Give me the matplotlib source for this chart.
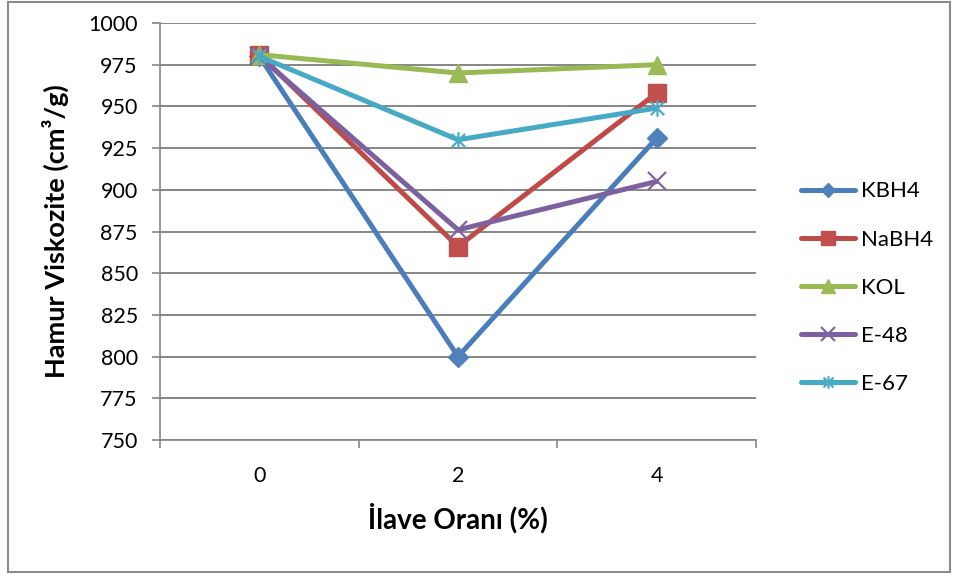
import matplotlib
matplotlib.use('Agg')
import matplotlib.pyplot as plt
from matplotlib.path import Path
from matplotlib.patches import Rectangle

plt.rcParams['font.family'] = ['Lato', 'DejaVu Sans']

# Additive ratio categories and measured dough viscosity per additive
categories = ['0', '2', '4']
kbh4 = [980, 800, 931]
nabh4 = [981, 866, 958]
kol = [981, 970, 975]
e48 = [980, 876, 905]
e67 = [980, 930, 949]

y_ticks = [750, 775, 800, 825, 850, 875, 900, 925, 950, 975, 1000]

# asterisk marker: an x with a vertical stroke
star = Path([(-1, -1), (1, 1), (-1, 1), (1, -1), (0, -1.25), (0, 1.25)],
            [Path.MOVETO, Path.LINETO, Path.MOVETO, Path.LINETO,
             Path.MOVETO, Path.LINETO])

series = [
    ('KBH4', kbh4, '#4A7EBB', '#4F81BD', 'D', 10),
    ('NaBH4', nabh4, '#BE4B48', '#C0504D', 's', 13),
    ('KOL', kol, '#98B954', '#9BBB59', '^', 13),
    ('E-48', e48, '#7D60A0', '#8064A2', 'x', 13),
    ('E-67', e67, '#46AAC5', '#4BACC6', star, 12),
]

fig = plt.figure(figsize=(9.58, 5.79), dpi=100)
ax = fig.add_axes([160 / 958, 1 - 440 / 579, (756 - 160) / 958, (440 - 23) / 579])

x = list(range(len(categories)))
for name, vals, lc, mc, mk, ms in series:
    filled = mk in ('D', 's', '^')
    ax.plot(x, vals, color=lc, linewidth=3.6, marker=mk, markersize=ms,
            markerfacecolor=mc if filled else 'none', markeredgecolor=mc,
            markeredgewidth=1.0 if filled else 1.6, label=name,
            solid_capstyle='round', zorder=3)

ax.set_ylim(750, 1000)
ax.set_yticks(y_ticks)
ax.set_xlim(-0.5, 2.5)
ax.set_xticks([-0.5, 0.5, 1.5, 2.5])
ax.set_xticklabels([])
ax.set_xticks(x, minor=True)
ax.set_xticklabels(categories, minor=True)

ax.grid(axis='y', color='#868686', linewidth=1.4, zorder=0)
for side in ('top', 'right'):
    ax.spines[side].set_visible(False)
for side in ('left', 'bottom'):
    ax.spines[side].set_color('#868686')
    ax.spines[side].set_linewidth(1.2)

ax.tick_params(axis='y', which='major', direction='out', length=6, width=1.2,
               color='#868686', labelsize=15.5, pad=10)
ax.tick_params(axis='x', which='major', direction='out', length=6, width=1.2,
               color='#868686')
ax.tick_params(axis='x', which='minor', length=0, labelsize=15.5, pad=19)

ax.set_xlabel('İlave Oranı (%)', fontsize=20, fontweight='bold', labelpad=12)
ax.set_ylabel('Hamur Viskozite (cm³/g)', fontsize=19.5, fontweight='bold', labelpad=14)

leg = ax.legend(loc='center left', bbox_to_anchor=(1.042, 0.365), frameon=False,
                fontsize=16, handlelength=2.45, labelspacing=1.27,
                handletextpad=0.25, markerscale=0.75)

# chart border
fig.patches.append(Rectangle((8 / 958, 1 - 572 / 579), 942 / 958, 570 / 579,
                             transform=fig.transFigure, fill=False,
                             edgecolor='#8C8C8C', linewidth=1.5))

fig.savefig('out.png', dpi=100)
